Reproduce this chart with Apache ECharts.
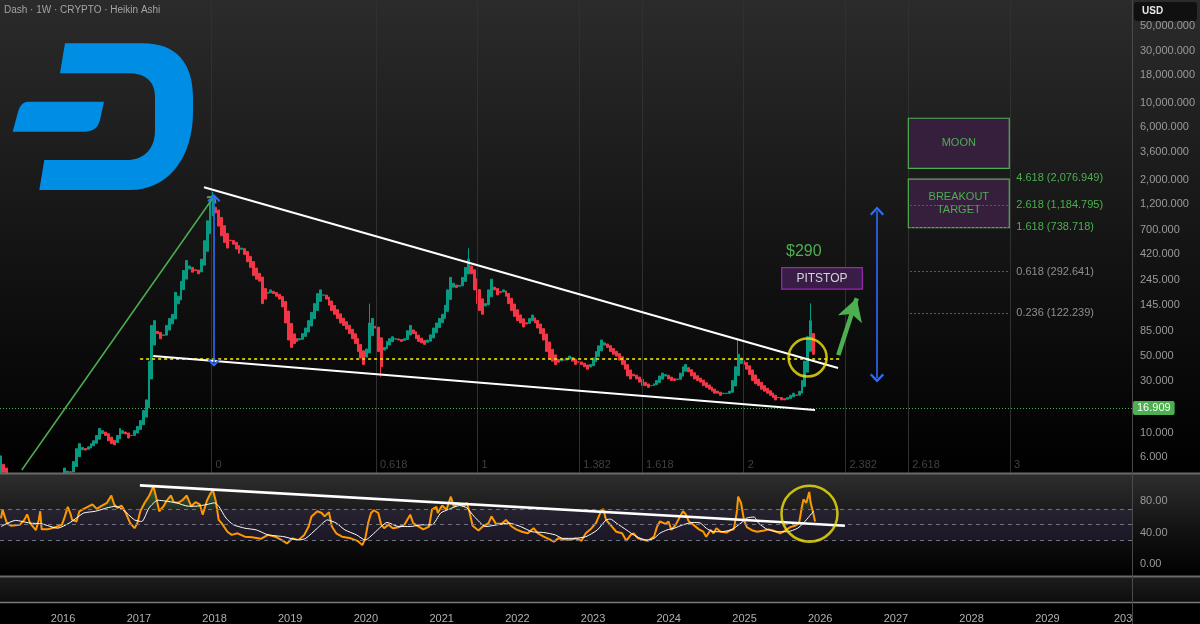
<!DOCTYPE html>
<html><head><meta charset="utf-8">
<script src="https://cdn.jsdelivr.net/npm/echarts@6/dist/echarts.min.js"></script>
<style>html,body{margin:0;padding:0;background:#000;}#c{width:1200px;height:624px;}</style>
</head><body><div id="c"></div>
<script>
// ---------- DATA ----------
const candleStart = '2015-03-08';   // first bi-weekly Heikin Ashi candle
const firstOpen = 4.2;
const closes = [
 6.2,4.4,3.6,3.3,3.2, 3.4,3.6,3.4,3.8,3.9, 3.6,3.2,3.0,2.9,3.0, 2.8,2.9,3.2,3.4,3.5,
 3.9,4.3,4.8,4.5,4.4, 5.5,7.2,8.0,7.4,7.0, 7.5,8.0,8.5,9.5,11.0, 10.5,9.5,8.5,8.0,7.8,
 9.5,11.0,10.5,9.8,9.0, 9.5,10.5,11.5,13.0,16.0, 20,45,95,105,80, 72,78,95,110,120,
 190,175,240,300,370, 330,290,300,280,380, 560,850,1250,1300,1000, 760,620,540,480,560,
 520,470,430,480,420, 360,320,270,250,240, 150,165,190,200,185, 175,165,140,100,70,
 60,65,68,72,80, 90,105,125,150,185, 200,180,165,145,130, 120,110,100,95,88,
 80,72,65,55,48, 42,58,100,110,90, 55,40,60,68,72, 75,72,70,68,72,
 85,95,80,72,68, 66,64,70,78,90, 100,110,120,145,200, 260,230,210,220,260,
 320,380,280,200,150, 130,120,150,200,250, 200,180,190,200,175, 150,130,115,105,100,
 92,98,110,118,100, 90,80,70,55,48, 45,42,44,47,46, 48,50,45,42,44,
 42,40,38,42,48, 55,62,70,66,60, 55,52,50,46,42, 38,33,31,33,31,
 29,27,27,26,27, 28,30,33,35,34, 31,30,30,31,35, 40,42,36,33,31,
 30,29,27,26,25, 24,23,23,22,23, 23,24,30,40,52, 48,42,38,34,30,
 28,27,25,24,23, 22,21,20,21,20, 20,21,22,23,22, 24,30,45,75,105,52
];
const wickHighs = [[73,1560],[127,150],[161,478],[254,72],[279,151]];
const wickLows = [[131,32.5]];

const rsiWeeks = [0,1,4,7,13,16,18,20,24,26,27,28,32,38,42,44,46,48,49,52,54,57,63,66,69,73,76,78,80,83,86,89,92,94,96,99,102,105,107,109,112,114,117,119,122,125,128,131,134,137,139,142,144,146,148,150,152,156,159,163,168,173,179,184,189,195,197,201,205,209,212,214,218,221,223,226,228,231,235,241,246,249,251,253,255,257,260,262,264,267,270,274,278,282,284,287,291,295,297,300,301,304,307,310,312,315,319,321,323,325,329,332,336,338,341,345,348,352,355,359,363,367,370,374,378,381,384,388,392,396,400,403,407,410,413,415,417,421,424,428,431,434,436,439,443,446,450,452,454,458,460,462,465,468,470,472,474,477,481,484,486,489,491,493,496,500,503,505,507,508,510,512,514,518,521,526,529,532,537,540,544,547,550,552,553,555,557,558,560,561];
const rsiValues = [58,69,52,48.5,50,56,63,52,43,56,67,44,44,47,50,60.5,72.6,63,56,54,67,70,75.6,70,73.4,77.7,87,75.6,71.3,74.3,64.8,52,45.5,52,67,77.7,86.3,99,84,67,73.4,80,87,78.6,77.7,81,87,73.4,78.6,75.6,62.7,81,88.5,94,80,56,52,41,37,39,34.7,34,32,37,34.7,28.7,26,32.6,30.4,37,47.6,60.5,67,64.8,60.5,65.7,47.6,39,34.7,32.6,29,24,32.6,52,64.8,68.3,64.8,50,45.5,50,45.5,46.8,50,62.7,52,48.5,44,47.6,69,72.6,64.8,74.3,69,85.5,73.4,77,73.4,77.7,64.8,48.5,42.5,47.6,52,60.5,51,51,56,47.6,44,41,39,45.5,39,34.7,31.3,28.3,32.6,31.3,30.4,32.6,29.6,39,45.5,52,65,70,56,47.6,41,39,29.6,37,39,32.6,30.4,29.6,34.7,46.8,54,51,54,43.3,50,60.5,67,62.7,54,50,44,41,34.7,43.3,39,45.5,41,40,43.3,44,64.8,85.5,77.7,56,46.8,42.5,41,42.5,44,42.5,39,42,46.8,48.5,52,73.4,82,77.7,91.5,77.7,62.7,54];
const maWeeks = [0,10,20,28,39,47,52,57,65,73,79,84,92,97,102,108,113,121,129,134,142,147,150,155,160,168,176,184,195,205,210,218,225,231,237,245,251,257,262,266,274,282,290,297,303,308,316,321,326,334,342,350,358,366,374,382,387,395,403,411,417,420,424,431,438,445,450,454,459,464,470,477,482,486,491,496,503,510,514,519,522,528,535,542,549,553,557,560];
const maValues = [47.6,55.4,52,51,45.5,52,58.4,64.8,67,71.3,73.4,69,56,54,71.3,81,80,77.7,73.4,73.4,75.6,77.7,73.4,58.4,50,45.5,43.3,37,34.7,30.4,32.6,45.5,56,52,43.3,37,30.4,39,47.6,52.8,47.6,47.6,49.8,49.8,64.8,69,74.3,71.3,60.5,47.6,49.8,52,47.6,41,40,37,32.6,32.6,34.7,43.3,56,57,52,43.3,34.7,30.4,32.6,39,43.3,45.5,49.8,52.8,52,45.5,41,41,43.3,52,58.4,59.7,52,44,41,41,45.5,52,60.5,67];

const priceTicks = [6,10,30,50,85,145,245,420,700,1200,2000,3600,6000,10000,18000,30000,50000];
const rsiTicks = [0,40,80];
const rsiBands = [70,50,30];
const yearTicks = [2016,2017,2018,2019,2020,2021,2022,2023,2024,2025,2026,2027,2028,2029,2030];

const fibExtLevels = ['4.618','2.618','1.618','0.618','0.236'];
const fibExtPrices = [2076.949,1184.795,738.718,292.641,122.239];
const fibExtGreen = [true,true,true,false,false];
const fibExtSpan = ['2027-03-10','2028-07-01'];
const fibTimeLevels = [0,0.618,1,1.382,1.618,2,2.382,2.618,3];
const fibTimeAnchors = ['2017-12-17','2021-06-23'];

const trendUpper = [['2017-11-11',1715],['2026-03-28',39.0]];
const trendLower = [['2017-03-11',50.1],['2025-12-07',16.2]];
const supportDotted = [['2017-01-07',47.1],['2026-04-06',47.1]];
const greenRise = [['2015-06-16',4.61],['2017-12-24',1368]];
const blueArrow1 = [['2017-12-29',1368],['2017-12-29',43.6]];
const blueArrow2 = [['2026-10-02',1042],['2026-10-02',31.6]];
const greenArrow = [['2026-03-29',51.1],['2026-06-26',167.7]];
const rsiTrend = [['2017-01-06',99.9],['2026-04-30',48.6]];
const circleMain = ['2025-11-01',48.5];
const circleRsi = ['2025-11-10',63.9];
const alertPrice = 16.909;
const boxes = [
  {text:'MOON', from:['2027-03-02',7260], to:['2028-07-01',2547], fill:'#361f3d', border:'#4caf50', color:'#4caf50', size:11},
  {text:'BREAKOUT\nTARGET', from:['2027-03-02',2030], to:['2028-07-01',735], fill:'#361f3d', border:'#4caf50', color:'#4caf50', size:11},
  {text:'PITSTOP', from:['2025-06-29',318], to:['2026-07-23',203.6], fill:'#3a1d46', border:'#9c27b0', color:'#d1d4dc', size:12}
];
const targetLabel = {text:'$290', at:['2025-10-14',442]};
const xRange = ['2015-03-03','2030-02-13'];

// ---------- HELPERS ----------
const DAY = 86400000;
const d = s => Date.parse(s + 'T00:00:00Z');
const fmt3 = v => Number(v).toLocaleString('en-US',{minimumFractionDigits:3,maximumFractionDigits:3});
const t0 = d(candleStart);

const candleData = [];
let prevOpen = firstOpen;
closes.forEach((c, i) => {
  const open = i === 0 ? firstOpen : (prevOpen + closes[i-1]) / 2;
  prevOpen = open;
  let hi = Math.max(open, c), lo = Math.min(open, c);
  wickHighs.forEach(w => { if (w[0] === i) hi = w[1]; });
  wickLows.forEach(w => { if (w[0] === i) lo = w[1]; });
  candleData.push([t0 + i*14*DAY, open, c, lo, hi]);
});
const rsiData = rsiWeeks.map((w,i) => [t0 + w*7*DAY, rsiValues[i]]);
const maData = maWeeks.map((w,i) => [t0 + w*7*DAY, maValues[i]]);
const obBase = rsiWeeks.map(w => [t0 + w*7*DAY, 70]);
const obFill = rsiWeeks.map((w,i) => [t0 + w*7*DAY, Math.max(rsiValues[i]-70, 0)]);

const pt = p => [d(p[0]), p[1]];
const seg = (a, b, lineStyle, s1, s2, sz1, sz2) => [
  {coord: pt(a), lineStyle, symbol: s1 || 'none', symbolSize: sz1 || 10, label:{show:false}},
  {coord: pt(b), symbol: s2 || 'none', symbolSize: sz2 || 10}
];
const chevron = 'path://M0,9 L9,0 L18,9 L16,11 L9,4 L2,11 Z';

const mainLines = [];
const tA = d(fibTimeAnchors[0]), tB = d(fibTimeAnchors[1]);
fibTimeLevels.forEach(l => mainLines.push({xAxis: tA + l*(tB-tA), lineStyle:{color:'#303030', width:1, type:'solid'}, label:{show:false}}));
mainLines.push({yAxis: alertPrice, lineStyle:{color:'#4caf50', width:1, type:[1,2]},
  label:{show:true, position:'end', distance:1, formatter: fmt3(alertPrice), color:'#fff', backgroundColor:'#4caf50',
         padding:[2,4,1,4], borderRadius:2, fontSize:11}});
mainLines.push(seg(supportDotted[0], supportDotted[1], {color:'#f2e600', width:1.6, type:[3,3]}));
mainLines.push(seg(trendUpper[0], trendUpper[1], {color:'#ffffff', width:2, type:'solid'}));
mainLines.push(seg(trendLower[0], trendLower[1], {color:'#ffffff', width:2, type:'solid'}));
mainLines.push(seg(greenRise[0], greenRise[1], {color:'#4caf50', width:1.5, type:'solid'}, 'none', chevron, 10, [12,7]));
mainLines.push(seg(blueArrow1[0], blueArrow1[1], {color:'#2f6bff', width:1.6, type:'solid'}, chevron, chevron, [13,8], [13,8]));
mainLines.push(seg(blueArrow2[0], blueArrow2[1], {color:'#2f6bff', width:1.6, type:'solid'}, chevron, chevron, [14,9], [14,9]));
mainLines.push(seg(greenArrow[0], greenArrow[1], {color:'#4caf50', width:4.5, type:'solid'}, 'none', 'arrow', 10, [19,22]));

const fibExtLines = fibExtPrices.map((p, i) => [
  {coord:[d(fibExtSpan[0]), p], lineStyle:{color:'#5a5a5a', width:1, type:[2,2]},
   label:{show:true, position:'end', distance:7, formatter: fibExtLevels[i] + ' (' + fmt3(p) + ')',
          color: fibExtGreen[i] ? '#4caf50' : '#8e8e8e', fontSize:11}},
  {coord:[d(fibExtSpan[1]), p]}
]);

const mainAreas = boxes.map(b => [
  {coord: pt(b.from), itemStyle:{color:b.fill, borderColor:b.border, borderWidth:1.2},
   label:{show:true, position:'inside', formatter:b.text, color:b.color, fontSize:b.size, lineHeight:13}},
  {coord: pt(b.to)}
]);
const mainPoints = [
  {coord: pt(targetLabel.at), label:{show:true, position:'inside', formatter:targetLabel.text, color:'#4caf50', fontSize:16}}
];
fibTimeLevels.forEach(l => mainPoints.push({coord:[tA + l*(tB-tA), 5.12],
  label:{show:true, position:'right', distance:4, formatter:String(l), color:'#404040', fontSize:11}}));

const rsiLines = rsiBands.map(v => ({yAxis: v, lineStyle:{color:'#6f7280', width:1, type:[4,4]}, label:{show:false}}));
rsiLines.push(seg(rsiTrend[0], rsiTrend[1], {color:'#ffffff', width:2.6, type:'solid'}));

const vgrad = (stops) => new echarts.graphic.LinearGradient(0,0,0,1, stops.map((c,i)=>({offset:i/(stops.length-1), color:c})));

// Dash logo shapes
echarts.graphic.registerShape('dashOuter', echarts.graphic.extendPath('M65,43.3 L143,43.3 C176,43.3 193,63 193,97 L193,112 C193,158 168,190 130,190 L39.3,190 L44.3,160 L127,160 C143,160 155,150 155,130 L155,96 C155,82 145,73.3 130,73.3 L60,73.3 Z'));
echarts.graphic.registerShape('dashBar', echarts.graphic.extendPath('M28,101.7 L104,101.7 L100,120 C98,128 93,131.7 84,131.7 L12.7,131.7 L18,112 C19.5,106 23,101.7 28,101.7 Z'));

const chart = echarts.init(document.getElementById('c'), null, {renderer:'canvas'});
const option = {
  animation:false, useUTC:true, backgroundColor:'#000',
  graphic: [
    {type:'rect', z:-10, shape:{x:0,y:0,width:1200,height:474}, style:{fill: vgrad(['#2b2b2b','#151515','#000000'])}},
    {type:'rect', z:-10, shape:{x:0,y:474,width:1200,height:103}, style:{fill: vgrad(['#2e2e2e','#141414','#000000'])}},
    // covers candle overflow below the price pane (RSI series are drawn above it)
    {type:'rect', z:1.5, shape:{x:0,y:474,width:1132,height:103}, style:{fill: vgrad(['#2e2e2e','#141414','#000000'])}},
    {type:'rect', z:-10, shape:{x:0,y:577,width:1200,height:26}, style:{fill: vgrad(['#1d1d1d','#0c0c0c'])}},
    {type:'dashOuter', z:100, shape:{}, style:{fill:'#008de4'}},
    {type:'dashBar', z:100, shape:{}, style:{fill:'#008de4'}},
    {type:'text', z:100, x:4, y:10, style:{text:'Dash · 1W · CRYPTO · Heikin Ashi', fill:'#a3a3a3', font:'10px "Liberation Sans", Arial, sans-serif', verticalAlign:'middle'}},
    {type:'rect', z:100, shape:{x:1134,y:2,width:63,height:19,r:3}, style:{fill:'#101010'}},
    {type:'text', z:101, x:1142, y:11, style:{text:'USD', fill:'#e6e6e6', font:'bold 10px "Liberation Sans", Arial, sans-serif', verticalAlign:'middle'}},
    {type:'line', z:100, shape:{x1:0,y1:473.5,x2:1200,y2:473.5}, style:{stroke:'#6a6a6a', lineWidth:2}},
    {type:'line', z:100, shape:{x1:0,y1:576.5,x2:1200,y2:576.5}, style:{stroke:'#6a6a6a', lineWidth:2}},
    {type:'line', z:100, shape:{x1:0,y1:602.5,x2:1200,y2:602.5}, style:{stroke:'#7a7a7a', lineWidth:1.5}},
    {type:'line', z:100, shape:{x1:1132.5,y1:0,x2:1132.5,y2:624}, style:{stroke:'#4a4a4a', lineWidth:1}}
  ],
  grid: [
    {left:0, right:68, top:0, height:473},
    {left:0, right:68, top:474, height:102},
    {left:0, right:68, top:577, height:26}
  ],
  xAxis: [
    {gridIndex:0, type:'time', min:d(xRange[0]), max:d(xRange[1]), show:false},
    {gridIndex:1, type:'time', min:d(xRange[0]), max:d(xRange[1]), show:false},
    {gridIndex:2, type:'value', min:d(xRange[0]), max:d(xRange[1]),
     axisLine:{show:false}, axisTick:{show:false}, splitLine:{show:false},
     axisLabel:{customValues: yearTicks.map(y => Date.UTC(y,0,1)), color:'#b0b0b0', fontSize:11, margin:11,
       formatter: v => { const y = new Date(v).getUTCFullYear(); return y === 2030 ? '203' : String(y); }}}
  ],
  yAxis: [
    {gridIndex:0, type:'log', logBase:10, min:4.33, max:86300, position:'right',
     axisLine:{show:false}, axisTick:{show:false}, splitLine:{show:false},
     axisLabel:{customValues: priceTicks, formatter: v => fmt3(v), color:'#9a9a9a', fontSize:11, margin:8}},
    {gridIndex:1, type:'value', min:-15.2, max:114.3, position:'right',
     axisLine:{show:false}, axisTick:{show:false}, splitLine:{show:false},
     axisLabel:{customValues: rsiTicks, formatter: v => Number(v).toFixed(2), color:'#9a9a9a', fontSize:11, margin:8}},
    {gridIndex:2, type:'value', show:false, min:0, max:1}
  ],
  series: [
    {type:'candlestick', name:'Dash HA', z:1, xAxisIndex:0, yAxisIndex:0, data:candleData, encode:{x:0, y:[1,2,3,4]},
     barWidth:2.4, clip:true,
     itemStyle:{color:'#089981', color0:'#f23645', borderColor:'#089981', borderColor0:'#f23645', borderWidth:1},
     markLine:{silent:true, z:5, symbol:'none', label:{show:false}, data: mainLines},
     markArea:{silent:true, z:6, data: mainAreas},
     markPoint:{silent:true, z:6, symbol:'circle', symbolSize:0, data: mainPoints}},
    {type:'scatter', z:7, xAxisIndex:0, yAxisIndex:0, data:[pt(circleMain)], symbol:'circle', symbolSize:38, silent:true,
     itemStyle:{color:'rgba(0,0,0,0)', borderColor:'#f3e60c', borderWidth:2.5},
     markLine:{silent:true, z:7, symbol:'none', label:{show:false}, data: fibExtLines}},
    {type:'line', z:3, xAxisIndex:1, yAxisIndex:1, data:obBase, stack:'ob', showSymbol:false, lineStyle:{width:0}, silent:true},
    {type:'line', z:3, xAxisIndex:1, yAxisIndex:1, data:obFill, stack:'ob', showSymbol:false, lineStyle:{width:0}, silent:true,
     areaStyle:{color: vgrad(['rgba(76,175,80,0.7)','rgba(76,175,80,0.15)'])}},
    {type:'line', z:4, name:'RSI', xAxisIndex:1, yAxisIndex:1, data:rsiData, showSymbol:false, silent:true,
     lineStyle:{color:'#ff9800', width:2},
     markArea:{silent:true, z:2.5, itemStyle:{color:'rgba(126,87,194,0.12)'}, data:[[{yAxis:70},{yAxis:30}]]},
     markLine:{silent:true, z:5, symbol:'none', label:{show:false}, data: rsiLines}},
    {type:'line', z:4, name:'RSI MA', xAxisIndex:1, yAxisIndex:1, data:maData, showSymbol:false, silent:true, smooth:0.2,
     lineStyle:{color:'#ffffff', width:1}},
    {type:'scatter', z:6, xAxisIndex:1, yAxisIndex:1, data:[pt(circleRsi)], symbol:'circle', symbolSize:56, silent:true,
     itemStyle:{color:'rgba(0,0,0,0)', borderColor:'#f3e60c', borderWidth:2.5}}
  ]
};
chart.setOption(option);
</script></body></html>
